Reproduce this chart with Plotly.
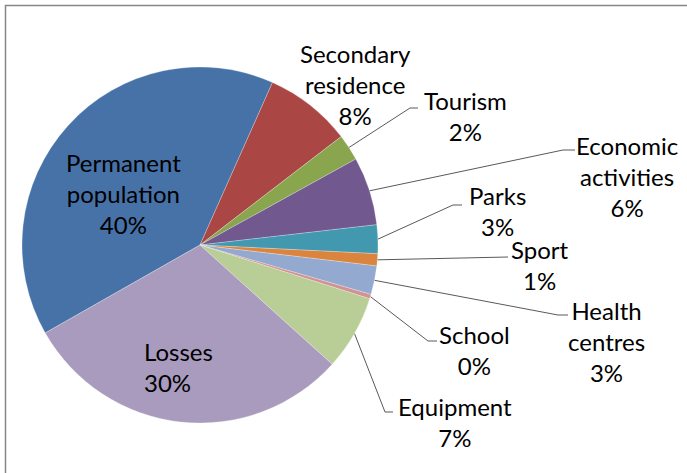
import math
import plotly.graph_objects as go

# ---- data ----
categories = ["Permanent population", "Secondary residence", "Tourism", "Economic activities",
              "Parks", "Sport", "Health centres", "School", "Equipment", "Losses"]
label_text = ["Permanent<br>population", "Secondary<br>residence", "Tourism", "Economic<br>activities",
              "Parks", "Sport", "Health<br>centres", "School", "Equipment", "Losses"]
values = [39.9, 7.9, 2.4, 6.2, 2.6, 1.1, 2.6, 0.4, 6.8, 30.1]
colors = ["#4672A8", "#AA4643", "#89A54E", "#71588F", "#4198AF",
          "#DB843D", "#93A9CF", "#D19392", "#B9CD96", "#A99BBD"]

# ---- layout constants (pixels) ----
W, H = 687, 473
CX, CY, R = 200, 245, 178
ROT = 240.4
FONT = dict(family="Lato, Calibri, sans-serif", size=24, color="#000000")

# label block positions: (x, y, xanchor, align)
label_pos = {
    "Permanent population": (123, 193, "center", "center"),
    "Secondary residence": (355, 84, "center", "center"),
    "Tourism": (465, 116, "center", "center"),
    "Economic activities": (627, 176, "center", "center"),
    "Parks": (497, 211, "center", "center"),
    "Sport": (540, 265, "center", "center"),
    "Health centres": (606, 341, "center", "center"),
    "School": (474, 350, "center", "center"),
    "Equipment": (455, 422, "center", "center"),
    "Losses": (142, 367, "left", "left"),
}
# leader lines: elbow point and end point
leaders = {
    "Tourism": ((410, 108), (418, 108)),
    "Economic activities": ((563, 150), (575, 150)),
    "Parks": ((453, 205), (462, 205)),
    "Sport": ((508, 257), (508, 257)),
    "Health centres": ((558, 315), (568, 315)),
    "School": ((428, 341), (437, 341)),
    "Equipment": ((385, 412), (393, 412)),
}

fig = go.Figure()
fig.add_trace(go.Pie(
    labels=categories, values=values, sort=False, direction="clockwise",
    rotation=ROT, marker=dict(colors=colors, line=dict(color="rgba(255,255,255,0.5)", width=0.5)),
    textinfo="none", hoverinfo="skip", showlegend=False,
    domain=dict(x=[(CX - R) / W, (CX + R) / W], y=[1 - (CY + R) / H, 1 - (CY - R) / H]),
))

total = sum(values)
cum = 0.0
annotations = []
for cat, txt, v in zip(categories, label_text, values):
    mid = ROT + (cum + v / 2) / total * 360.0
    cum += v
    pct = f"{round(v / total * 100):d}%"
    x, y, xa, al = label_pos[cat]
    annotations.append(dict(x=x, y=y, xref="x", yref="y", text=f"{txt}<br>{pct}",
                            showarrow=False, xanchor=xa, yanchor="middle", align=al, font=FONT))
    if cat in leaders:
        a = math.radians(mid)
        ex, ey = CX + R * math.sin(a), CY - R * math.cos(a)
        (bx, by), (fx, fy) = leaders[cat]
        fig.add_trace(go.Scatter(x=[ex, bx, fx], y=[ey, by, fy], mode="lines",
                                 line=dict(color="#595959", width=1), hoverinfo="skip",
                                 showlegend=False))

fig.update_layout(
    width=W, height=H, margin=dict(l=0, r=0, t=0, b=0),
    paper_bgcolor="white", plot_bgcolor="rgba(0,0,0,0)",
    xaxis=dict(range=[0, W], visible=False, fixedrange=True),
    yaxis=dict(range=[H, 0], visible=False, fixedrange=True),
    annotations=annotations,
    shapes=[dict(type="rect", xref="x", yref="y", x0=5.5, y0=5.5, x1=W + 20, y1=H + 20,
                 line=dict(color="#878787", width=1.5), layer="above")],
)
fig.write_html("out.html", config={"displayModeBar": False, "staticPlot": True},
               post_script="document.body.style.margin='0';document.body.style.overflow='hidden';")
